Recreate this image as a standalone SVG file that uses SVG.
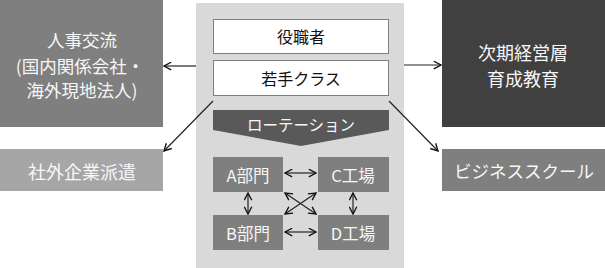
<svg xmlns="http://www.w3.org/2000/svg" width="605" height="268" viewBox="0 0 605 268">
<defs>
<style>
text{font-family:"Noto Sans CJK JP","Noto Sans",sans-serif;font-weight:400;text-anchor:middle;dominant-baseline:central}
.w{fill:#f7f7f7}
.k{fill:#111111}
.con line{stroke:#222;stroke-width:1.2;fill:none}
.gl{stroke:#555;stroke-width:1.2}
</style>
<marker id="ah" viewBox="0 0 10 10" refX="9" refY="5" markerWidth="9" markerHeight="9" markerUnits="userSpaceOnUse" orient="auto-start-reverse">
<polyline points="1,0.8 9,5 1,9.2" fill="none" stroke="#111" stroke-width="1.5"/>
</marker>
</defs>
<rect width="605" height="268" fill="#ffffff"/>
<g id="panel">
<rect x="196" y="3" width="208" height="265" fill="#d9d9d9"/>
</g>
<g id="jinji">
<rect x="0" y="0" width="163" height="127" fill="#7f7f7f"/>
<text class="w" x="82" y="39" font-size="17.5">人事交流</text>
<text class="w" x="80" y="65" font-size="17.5">(国内関係会社・</text>
<text class="w" x="82" y="89" font-size="17.5">海外現地法人)</text>
</g>
<g id="jiki">
<rect x="442" y="0" width="163" height="127" fill="#404040"/>
<text class="w" x="523" y="52" font-size="18">次期経営層</text>
<text class="w" x="523" y="78" font-size="18">育成教育</text>
</g>
<g id="shagai">
<rect x="0" y="149" width="163" height="42" fill="#a6a6a6"/>
<text class="w" x="82" y="171" font-size="18">社外企業派遣</text>
</g>
<g id="business">
<rect x="442" y="149" width="163" height="42" fill="#7f7f7f"/>
<text class="w" x="524" y="170" font-size="17.5">ビジネススクール</text>
</g>
<g id="yakushoku">
<rect x="213.5" y="19.5" width="175" height="34" fill="#ffffff" stroke="#7f7f7f"/>
<text class="k" x="301" y="36" font-size="16">役職者</text>
</g>
<g id="wakate">
<rect x="213.5" y="60.5" width="175" height="35" fill="#ffffff" stroke="#7f7f7f"/>
<text class="k" x="301" y="78" font-size="16">若手クラス</text>
</g>
<g id="rotation">
<polygon points="213,110 389,110 389,130 301,146 213,130" fill="#595959"/>
<text class="w" x="301" y="124" font-size="15.5">ローテーション</text>
</g>
<g id="a">
<rect x="213" y="157" width="70" height="35" fill="#7f7f7f"/>
<text class="w" x="248" y="175" font-size="16.5">A部門</text>
</g>
<g id="c">
<rect x="318" y="157" width="71" height="35" fill="#7f7f7f"/>
<text class="w" x="353" y="175" font-size="16.5">C工場</text>
</g>
<g id="b">
<rect x="213" y="215" width="70" height="35" fill="#7f7f7f"/>
<text class="w" x="248" y="233" font-size="16.5">B部門</text>
</g>
<g id="d">
<rect x="318" y="215" width="71" height="35" fill="#7f7f7f"/>
<text class="w" x="353" y="233" font-size="16.5">D工場</text>
</g>
<g id="connectors" class="con">
<line class="gl" x1="196" y1="66" x2="164" y2="66" marker-end="url(#ah)"/>
<line class="gl" x1="404" y1="65" x2="441" y2="65" marker-end="url(#ah)"/>
<line x1="213" y1="101" x2="164" y2="151" marker-end="url(#ah)"/>
<line x1="389" y1="101" x2="438" y2="151" marker-end="url(#ah)"/>
<line x1="285" y1="173" x2="316" y2="173" marker-start="url(#ah)" marker-end="url(#ah)"/>
<line x1="285" y1="232" x2="316" y2="232" marker-start="url(#ah)" marker-end="url(#ah)"/>
<line x1="248" y1="193" x2="248" y2="214" marker-start="url(#ah)" marker-end="url(#ah)"/>
<line x1="353" y1="193" x2="353" y2="214" marker-start="url(#ah)" marker-end="url(#ah)"/>
<line x1="285" y1="193" x2="316" y2="214" marker-start="url(#ah)" marker-end="url(#ah)"/>
<line x1="316" y1="193" x2="285" y2="214" marker-start="url(#ah)" marker-end="url(#ah)"/>
</g>
</svg>
